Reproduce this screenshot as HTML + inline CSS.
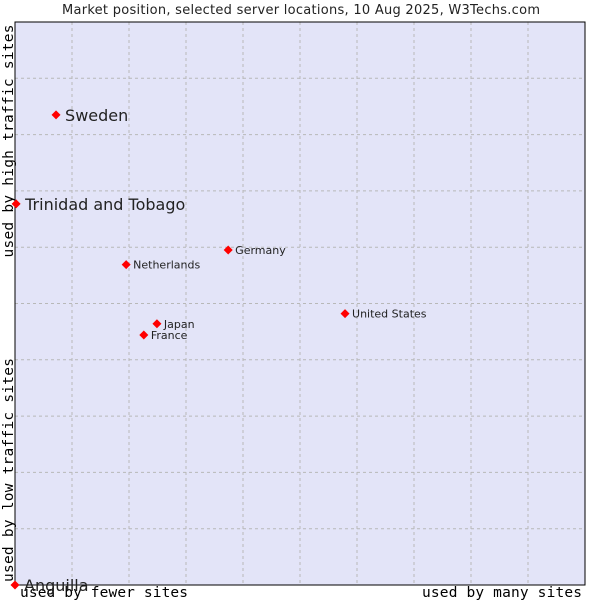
<!DOCTYPE html>
<html><head><meta charset="utf-8"><style>
body{margin:0;background:#fff;}
svg{display:block;}
</style></head><body>
<svg id="chart" width="600" height="600" xmlns="http://www.w3.org/2000/svg">
<rect x="0" y="0" width="600" height="600" fill="#fff"/>
<text x="301" y="14" text-anchor="middle" font-family="DejaVu Sans, sans-serif" font-size="13" textLength="478" fill="#222">Market position, selected server locations, 10 Aug 2025, W3Techs.com</text>
<rect x="15" y="22" width="570" height="563" fill="#e3e4f8"/>
<g id="grid"></g>
<rect x="15" y="22" width="570" height="563" fill="none" stroke="#000" stroke-width="1"/>
<text transform="translate(13,141) rotate(-90)" text-anchor="middle" font-family="DejaVu Sans Mono, monospace" font-size="14.5" textLength="233" fill="#000">used by high traffic sites</text>
<text transform="translate(13,470) rotate(-90)" text-anchor="middle" font-family="DejaVu Sans Mono, monospace" font-size="14.5" textLength="224" fill="#000">used by low traffic sites</text>
<text x="104" y="597" text-anchor="middle" font-family="DejaVu Sans Mono, monospace" font-size="14.5" textLength="168" fill="#000">used by fewer sites</text>
<text x="502" y="597" text-anchor="middle" font-family="DejaVu Sans Mono, monospace" font-size="14.5" textLength="160" fill="#000">used by many sites</text>
<g id="points"></g>
</svg>
<script>
const countries=["Sweden","Trinidad and Tobago","Anguilla","Netherlands","Germany","United States","Japan","France"];
const xValues=[7.2,0.2,0,19.5,37.4,57.9,24.9,22.6];
const yValues=[83.5,67.7,0,56.9,59.5,48.2,46.4,44.4];
const bigLabel=[true,true,true,false,false,false,false,false];
const NS="http://www.w3.org/2000/svg";
const X=v=>15+v*5.7, Y=v=>585-v*5.63;
const grid=document.getElementById('grid');
for(let i=1;i<10;i++){
 const l=document.createElementNS(NS,'line');
 l.setAttribute('x1',X(i*10));l.setAttribute('x2',X(i*10));l.setAttribute('y1',22);l.setAttribute('y2',585);
 l.setAttribute('stroke','#b8b8b8');l.setAttribute('stroke-dasharray','3,3');
 
 
 grid.appendChild(l);
 const h=document.createElementNS(NS,'line');
 h.setAttribute('y1',Y(i*10));h.setAttribute('y2',Y(i*10));h.setAttribute('x1',15);h.setAttribute('x2',585);
 h.setAttribute('stroke','#b8b8b8');h.setAttribute('stroke-dasharray','3,3');
 
 
 grid.appendChild(h);
}
const pts=document.getElementById('points');
countries.forEach((c,i)=>{
 const x=X(xValues[i]),y=Y(yValues[i]);
 const d=document.createElementNS(NS,'path');
 d.setAttribute('d',`M${x},${y-4.5}L${x+4.5},${y}L${x},${y+4.5}L${x-4.5},${y}Z`);
 d.setAttribute('fill','#f00');
 
 
 pts.appendChild(d);
 const t=document.createElementNS(NS,'text');
 const big=bigLabel[i];
 t.setAttribute('x',x+(big?9:7));t.setAttribute('y',y+(big?6:4));
 t.setAttribute('font-family','DejaVu Sans, sans-serif');
 t.setAttribute('font-size',big?16:11);
 t.setAttribute('fill','#222');
 t.textContent=c;
 
 
 pts.appendChild(t);
});
</script>
</body></html>
